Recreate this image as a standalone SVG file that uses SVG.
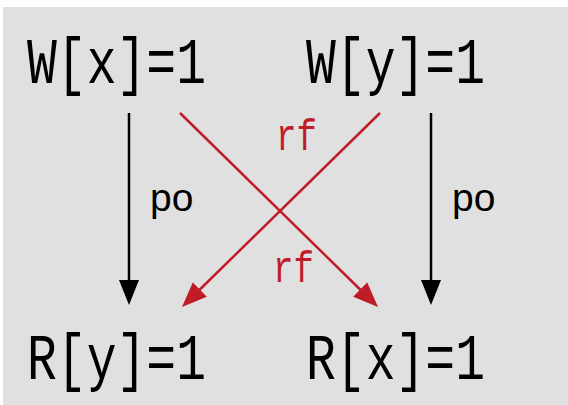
<svg xmlns="http://www.w3.org/2000/svg" width="568" height="405" viewBox="0 0 568 405">
<style>
.node{font-family:"Liberation Mono","DejaVu Sans Mono",monospace;font-size:64px;fill:#000}
.rf{font-family:"Liberation Mono","DejaVu Sans Mono",monospace;font-size:44px;fill:#c01c28}
.po{font-family:"Liberation Sans",Arial,sans-serif;font-size:39px;fill:#000}
.blk{stroke:#000;stroke-width:2.5;fill:none}
.red{stroke:#c01c28;stroke-width:2.5;fill:none}
</style>
<defs>
<marker id="ah" markerUnits="userSpaceOnUse" markerWidth="26" markerHeight="22" viewBox="0 0 26 22" refX="10" refY="11" orient="auto">
<path d="M0,1 L25,11 L0,21 z" fill="#000"/>
</marker>
<marker id="ahr" markerUnits="userSpaceOnUse" markerWidth="26" markerHeight="22" viewBox="0 0 26 22" refX="10" refY="11" orient="auto">
<path d="M0,1 L25,11 L0,21 z" fill="#c01c28"/>
</marker>
</defs>
<rect x="3" y="7" width="565" height="398" fill="#e0e0e0"/>
<g id="wx"><text class="node" x="27" y="83" textLength="179" lengthAdjust="spacingAndGlyphs">W[x]=1</text></g>
<g id="wy"><text class="node" x="306" y="83" textLength="179" lengthAdjust="spacingAndGlyphs">W[y]=1</text></g>
<g id="ry"><text class="node" x="27" y="379" textLength="179" lengthAdjust="spacingAndGlyphs">R[y]=1</text></g>
<g id="rx"><text class="node" x="306" y="379" textLength="179" lengthAdjust="spacingAndGlyphs">R[x]=1</text></g>
<g id="connectors">
<path class="blk" d="M129,113 L129,290" marker-end="url(#ah)"/>
<path class="blk" d="M431,113 L431,290" marker-end="url(#ah)"/>
<path class="red" d="M180,113 L367.3,296.5" marker-end="url(#ahr)"/>
<path class="red" d="M380,113 L192.7,296.5" marker-end="url(#ahr)"/>
<text class="po" x="150" y="211">po</text>
<text class="po" x="452" y="211">po</text>
<text class="rf" x="276" y="150" textLength="41" lengthAdjust="spacingAndGlyphs">rf</text>
<text class="rf" x="273" y="282" textLength="41" lengthAdjust="spacingAndGlyphs">rf</text>
</g>
</svg>
